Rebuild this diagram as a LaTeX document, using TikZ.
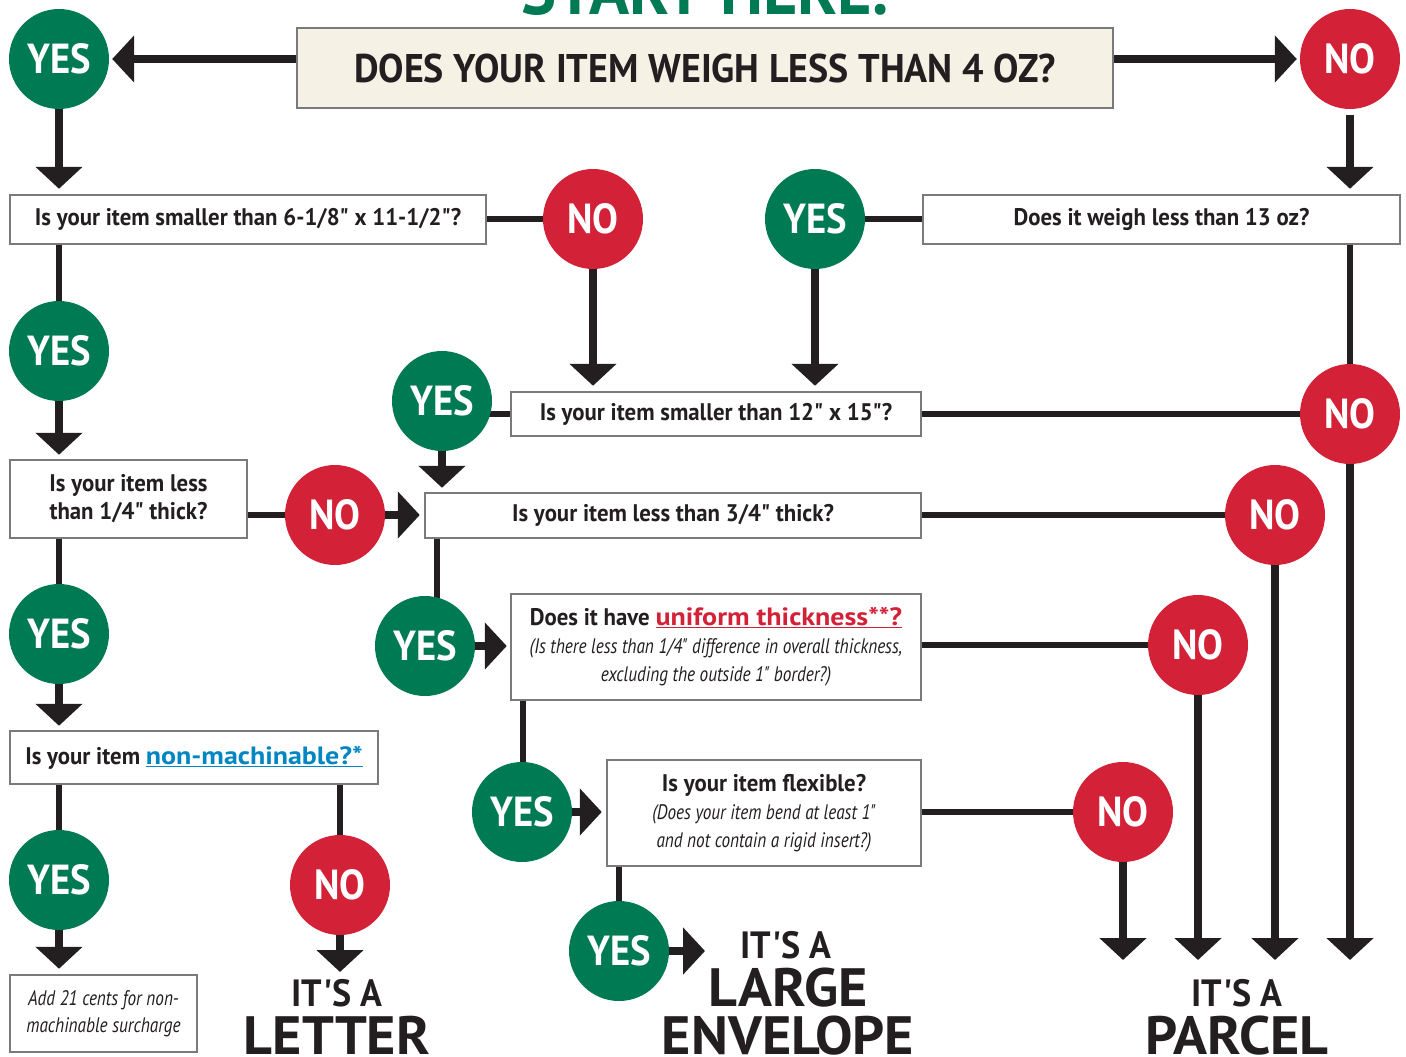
\documentclass[tikz,border=0pt]{standalone}
\usepackage{fontspec}
\setmainfont{PT Sans}
\newfontfamily\condfont[FakeStretch=0.92]{PT Sans}
\newfontfamily\boxfont[FakeStretch=0.95]{PT Sans}
\newfontfamily\widefont[FakeStretch=1.04]{PT Sans}
\newfontfamily\linkfont[FakeStretch=1.12]{PT Sans}
\newfontfamily\narrowfont[FakeStretch=0.82]{PT Sans}
\usetikzlibrary{arrows.meta}

\definecolor{yesgreen}{RGB}{0,122,82}
\definecolor{nored}{RGB}{211,33,55}
\definecolor{boxgray}{RGB}{122,122,122}
\definecolor{titlecream}{RGB}{245,241,229}
\definecolor{linkblue}{RGB}{0,134,194}
\definecolor{linecol}{RGB}{35,31,32}

\newcommand{\qfont}{\boxfont\bfseries\fontsize{24}{28}\selectfont}
\newcommand{\notefont}{\narrowfont\mdseries\itshape\fontsize{21}{27}\selectfont}
\newcommand{\linktext}[2]{\textcolor{#1}{\linkfont\bfseries\fontsize{25}{28}\selectfont\underline{#2}}}

\pgfdeclarelayer{background}
\pgfsetlayers{background,main}

\begin{document}
\begin{tikzpicture}[> = {Triangle[length = 22pt, width = 46pt]}, x = 1pt, y = -1pt,
	answer/.style = {circle, minimum size = 100pt, inner sep = 0pt, text = white,
		font = \condfont\bfseries\fontsize{42}{42}\selectfont},
	yesdot/.style = {answer, fill = yesgreen},
	nodot/.style = {answer, fill = nored},
	question/.style = {draw = boxgray, line width = 2.5pt, fill = white, inner sep = 0pt,
		align = center, text = linecol, font = \qfont},
	result/.style = {inner sep = 0pt, text = linecol, font = \boxfont\bfseries\fontsize{38}{38}\selectfont},
	bigresult/.style = {result, font = \widefont\bfseries\fontsize{54}{54}\selectfont}]

\useasboundingbox (0, 0) rectangle (1406, 1057);

% Heading

\node [anchor = base, text = yesgreen, inner sep = 0pt,
	font = \condfont\bfseries\fontsize{72}{72}\selectfont] (start) at (705, 15) {START HERE.};

% Questions

\node [question, fill = titlecream, minimum width = 816pt, minimum height = 80pt,
	font = \boxfont\bfseries\fontsize{40}{40}\selectfont] (weight) at (705, 68)
	{DOES YOUR ITEM WEIGH LESS THAN 4 OZ?};
\node [question, minimum width = 476pt, minimum height = 49pt] (small) at (248, 219.5)
	{Is your item smaller than 6-1/8" x 11-1/2"?};
\node [question, minimum width = 477pt, minimum height = 49pt] (ounces) at (1161.5, 219.5)
	{Does it weigh less than 13 oz?};
\node [question, minimum width = 410pt, minimum height = 44pt] (medium) at (716, 414)
	{Is your item smaller than 12" x 15"?};
\node [question, minimum width = 237pt, minimum height = 78pt] (thin) at (128.5, 499)
	{Is your item less\\than 1/4" thick?};
\node [question, minimum width = 496pt, minimum height = 45pt] (thick) at (673, 515.5)
	{Is your item less than 3/4" thick?};
\node [question, minimum width = 368pt, minimum height = 53pt] (machine) at (194, 757.5)
	{Is your item \linktext{linkblue}{non-machinable?*}};
\node [question, minimum width = 410pt, minimum height = 106pt] (uniform) at (716, 647)
	{Does it have \linktext{nored}{uniform thickness**?}\\
	{\notefont (Is there less than 1/4" difference in overall thickness,}\\
	{\notefont excluding the outside 1" border?)}};
\node [question, minimum width = 314pt, minimum height = 106pt] (flexible) at (764, 813)
	{Is your item flexible?\\
	{\notefont (Does your item bend at least 1"}\\
	{\notefont and not contain a rigid insert?)}};
\node [question, font = \notefont, minimum width = 187pt, minimum height = 77pt] (surcharge) at (103.5, 1013.5)
	{Add 21 cents for non-\\machinable surcharge};

% Answers

\node [yesdot] (yesWeight) at (59, 59) {YES};
\node [nodot] (noWeight) at (1350, 59) {NO};
\node [nodot] (noSmall) at (593, 219) {NO};
\node [yesdot] (yesOunces) at (815, 219) {YES};
\node [yesdot] (yesSmall) at (59, 351) {YES};
\node [yesdot] (yesMedium) at (442, 401) {YES};
\node [nodot] (noMedium) at (1350, 414) {NO};
\node [nodot] (noThin) at (335, 515) {NO};
\node [nodot] (noThick) at (1275, 515) {NO};
\node [yesdot] (yesThin) at (59, 634) {YES};
\node [yesdot] (yesThick) at (425, 646) {YES};
\node [nodot] (noUniform) at (1198, 645) {NO};
\node [yesdot] (yesUniform) at (522, 812) {YES};
\node [nodot] (noFlexible) at (1123, 812) {NO};
\node [yesdot] (yesMachine) at (59, 880) {YES};
\node [nodot] (noMachine) at (340, 885) {NO};
\node [yesdot] (yesFlexible) at (619, 951) {YES};

% Results

\node [result] (letterHead) at (337, 993.5) {IT'S A};
\node [bigresult] (letter) at (337, 1035.5) {LETTER};
\node [result] (envelopeHead) at (786, 945) {IT'S A};
\node [bigresult] (large) at (788, 988) {LARGE};
\node [bigresult] (envelope) at (788, 1035.5) {ENVELOPE};
\node [result] (parcelHead) at (1237, 993.5) {IT'S A};
\node [bigresult] (parcel) at (1237, 1035.5) {PARCEL};

\coordinate (letterTip) at (340, 972);
\coordinate (envelopeTip) at (705, 951);
\coordinate (parcelTip) at (1237, 960);

\begin{pgfonlayer}{background}

	% Plain lines

	\begin{scope}[draw = linecol, line width = 5.5pt]

		\draw (small.east |- noSmall) -- (noSmall.west);
		\draw (yesOunces.east) -- (yesOunces -| ounces.west);
		\draw (noWeight |- ounces.south) -- (noMedium.north);
		\draw (medium.east |- noMedium) -- (noMedium.west);
		\draw (medium.west) -- (medium.west -| yesMedium);
		\draw (yesSmall |- small.south) -- (yesSmall.north);
		\draw (thin.east |- noThin) -- (noThin.west);
		\draw (thick.east |- noThick) -- (noThick.west);
		\draw (yesThin |- thin.south) -- (yesThin.north);
		\draw ([xshift = 13pt] thick.south west) -- ([xshift = 13pt] thick.south west |- yesThick);
		\draw (uniform.east |- noUniform) -- (noUniform.west);
		\draw ([xshift = 13pt] uniform.south west) -- ([xshift = 13pt] uniform.south west |- yesUniform);
		\draw (flexible.east |- noFlexible) -- (noFlexible.west);
		\draw (yesMachine |- machine.south) -- (yesMachine.north);
		\draw (noMachine |- machine.south) -- (noMachine.north);
		\draw (yesFlexible |- flexible.south) -- (yesFlexible.north);

	\end{scope}

	% Arrows

	\begin{scope}[draw = linecol, fill = linecol, line width = 8pt]

		\draw [->, shorten >= 3pt] (yesWeight -| weight.west) -- (yesWeight.east);
		\draw [->, shorten >= 3pt] (noWeight -| weight.east) -- (noWeight.west);
		\draw [->, shorten >= 5pt] (yesWeight.south) -- (yesWeight |- small.north);
		\draw [->, shorten <= 6pt, shorten >= 5pt] (noWeight.south) -- (noWeight |- ounces.north);
		\draw [->, shorten >= 5pt] (noSmall.south) -- (noSmall |- medium.north);
		\draw [->, shorten >= 5pt] (yesOunces.south) -- (yesOunces |- medium.north);
		\draw [->, shorten >= 4pt] (yesSmall.south) -- (yesSmall |- thin.north);
		\draw [->, shorten >= 4pt] (yesMedium.south) -- (yesMedium |- thick.north);
		\draw [->, shorten >= 4pt] (noThin.east) -- (noThin -| thick.west);
		\draw [->, shorten >= 4pt] (yesThin.south) -- (yesThin |- machine.north);
		\draw [->, shorten >= 3pt] (yesThick.east) -- (yesThick -| uniform.west);
		\draw [->, shorten >= 4pt] (yesUniform.east) -- (yesUniform -| flexible.west);
		\draw [->, shorten >= 5pt] (yesMachine.south) -- (yesMachine |- surcharge.north);
		\draw [->] (noMachine.south) -- (letterTip);
		\draw [->] (yesFlexible.east) -- (envelopeTip);
		\draw [->] (noFlexible.south) -- (noFlexible |- parcelTip);
		\draw [->] (noUniform.south) -- (noUniform |- parcelTip);
		\draw [->] (noThick.south) -- (noThick |- parcelTip);
		\draw [->] (noMedium.south) -- (noMedium |- parcelTip);

	\end{scope}

\end{pgfonlayer}

\end{tikzpicture}
\end{document}
